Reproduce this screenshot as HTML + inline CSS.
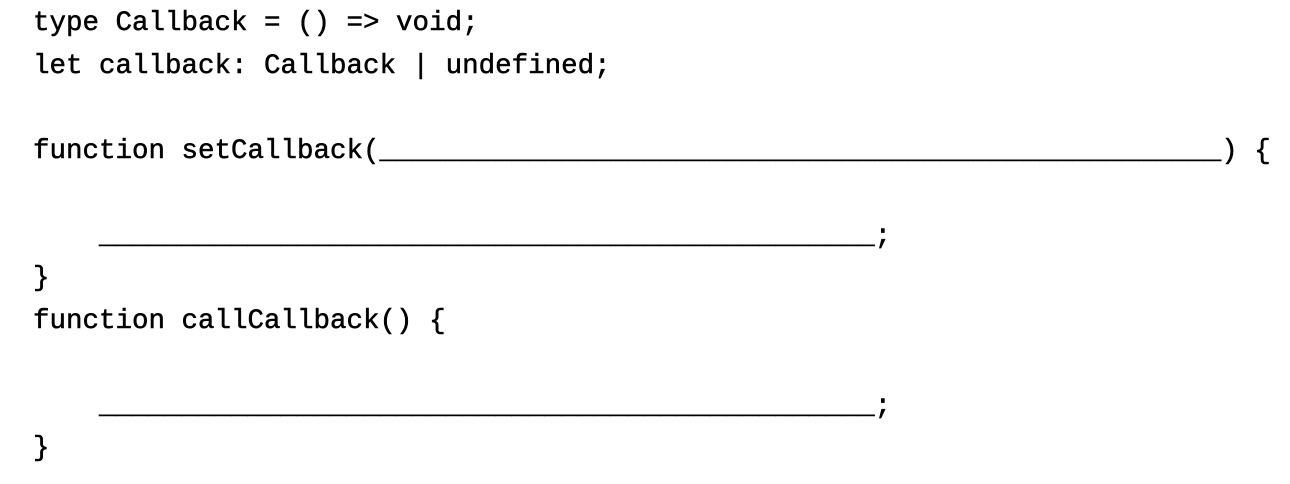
<!DOCTYPE html>
<html><head><style>
html,body{margin:0;padding:0;background:#fff;width:1290px;height:484px;overflow:hidden}
pre{position:absolute;left:33px;top:3px;margin:0;font-family:"Liberation Mono",monospace;font-size:27.5px;line-height:42.5px;color:#000;-webkit-text-stroke:0.5px #000}
</style></head><body>
<pre>type Callback = () =&gt; void;
let callback: Callback | undefined;

function setCallback(___________________________________________________) {

    _______________________________________________;
}
function callCallback() {

    _______________________________________________;
}</pre>
</body></html>
